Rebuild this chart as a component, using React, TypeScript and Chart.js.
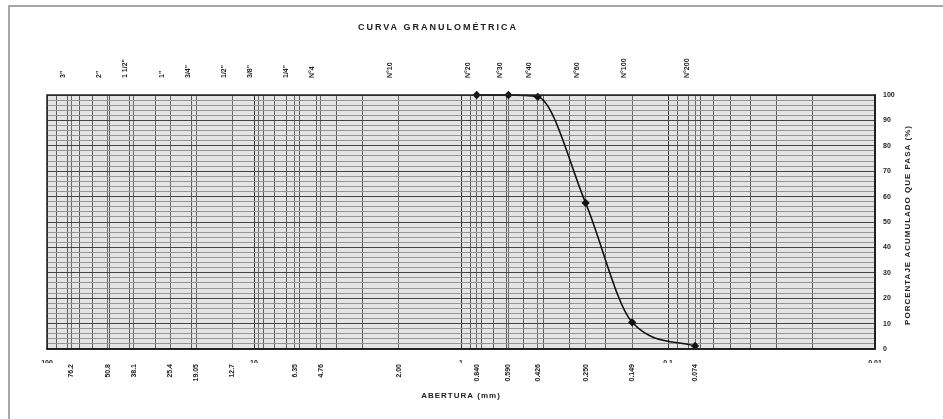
import React, { useEffect, useRef } from 'react';
import { Chart, registerables } from 'chart.js';

Chart.register(...registerables);

// Sieve designations (top axis) and their openings in mm (bottom axis)
const sieveNames = ['3"', '2"', '1 1/2"', '1"', '3/4"', '1/2"', '3/8"', '1/4"', 'N°4', 'N°10', 'N°20', 'N°30', 'N°40', 'N°60', 'N°100', 'N°200'];
const sieveOpenings = [76.2, 50.8, 38.1, 25.4, 19.05, 12.7, 9.525, 6.35, 4.76, 2.0, 0.84, 0.59, 0.426, 0.25, 0.149, 0.074];
const openingLabels = ['76.2', '50.8', '38.1', '25.4', '19.05', '12.7', '', '6.35', '4.76', '2.00', '0.840', '0.590', '0.426', '0.250', '0.149', '0.074'];

// Grain size curve (% passing)
const curveOpenings = [0.84, 0.59, 0.426, 0.25, 0.149, 0.074];
const curvePassing = [100, 100, 99.3, 57.5, 10.5, 1.2];

// Decade labels of the log axis
const decadeTicks = [100, 10, 1, 0.1, 0.01];
const decadeLabels = ['100', '10', '1', '0.1', '0.01'];
const minorFactors = [1, 2, 3, 4, 5, 6, 7, 8, 9];

const chartTitle = 'CURVA GRANULOMÉTRICA';
const xTitle = 'ABERTURA (mm)';
const yTitle = 'PORCENTAJE ACUMULADO QUE PASA (%)';

const FONT = 'Liberation Sans';
const tickFont = { family: FONT, size: 7, weight: 'bold' as const };

const near = (a: number, b: number) => Math.abs(a - b) / Math.max(Math.abs(b), 1e-9) < 1e-6;

const gridValues: number[] = (() => {
  const out: number[] = [];
  [0.01, 0.1, 1, 10].forEach((d) => minorFactors.forEach((f) => out.push(+(d * f).toPrecision(6))));
  out.push(100);
  sieveOpenings.forEach((v) => out.push(v));
  return out;
})();

const textPlugin = {
  id: 'texts',
  beforeDraw(chart: any) {
    const { ctx, chartArea: a } = chart;
    ctx.save();
    ctx.fillStyle = '#e4e4e4';
    ctx.fillRect(a.left, a.top, a.right - a.left, a.bottom - a.top);
    ctx.restore();
  },
  afterDraw(chart: any) {
    const { ctx, chartArea: a } = chart;
    ctx.save();
    // outer frame
    ctx.strokeStyle = '#8a8a8a';
    ctx.lineWidth = 1.5;
    ctx.strokeRect(9, 6, 1000, 1000);
    // plot border
    ctx.strokeStyle = '#222';
    ctx.lineWidth = 1.5;
    ctx.strokeRect(a.left, a.top, a.right - a.left, a.bottom - a.top);

    ctx.fillStyle = '#222';
    ctx.textAlign = 'center';
    ctx.textBaseline = 'middle';
    (ctx as any).letterSpacing = '2px';
    ctx.font = `bold 9px "${FONT}"`;
    ctx.fillText(chartTitle, 438, 28);

    (ctx as any).letterSpacing = '1px';
    ctx.font = `bold 8px "${FONT}"`;
    ctx.fillText(xTitle, (a.left + a.right) / 2, 396);

    ctx.translate(908, 225);
    ctx.rotate(-Math.PI / 2);
    ctx.fillText(yTitle, 0, 0);
    ctx.restore();
  },
};

export default function App() {
  const ref = useRef<HTMLCanvasElement>(null);

  useEffect(() => {
    if (!ref.current) return;
    const chart = new Chart(ref.current, {
      type: 'line',
      data: {
        datasets: [
          {
            data: curveOpenings.map((x, i) => ({ x, y: curvePassing[i] })),
            xAxisID: 'x',
            yAxisID: 'y',
            borderColor: '#111',
            borderWidth: 1.6,
            pointStyle: 'rectRot',
            pointRadius: 3,
            pointBackgroundColor: '#111',
            pointBorderColor: '#111',
            cubicInterpolationMode: 'monotone',
            clip: false as any,
          },
        ],
      },
      options: {
        responsive: false,
        animation: false,
        devicePixelRatio: 1,
        layout: { padding: { left: 47, top: 0, right: 0, bottom: 0 } },
        plugins: { legend: { display: false }, tooltip: { enabled: false }, title: { display: false } },
        scales: {
          x: {
            type: 'logarithmic',
            position: 'bottom',
            reverse: true,
            min: 0.01,
            max: 100,
            weight: 0,
            afterBuildTicks: (s: any) => {
              s.ticks = gridValues.map((v) => ({ value: v }));
            },
            afterFit: (s: any) => {
              s.height = 14;
            },
            ticks: {
              autoSkip: false,
              minRotation: 0,
              maxRotation: 0,
              padding: 10,
              color: '#222',
              font: tickFont,
              callback: (v: any) => {
                const i = decadeTicks.findIndex((d) => near(Number(v), d));
                return i >= 0 ? decadeLabels[i] : '';
              },
            },
            grid: {
              drawTicks: false,
              lineWidth: 1,
              color: (c: any) => {
                const v = c.tick ? c.tick.value : 0;
                if (decadeTicks.some((d) => near(v, d))) return '#333';
                if (sieveOpenings.some((d) => near(v, d))) return '#6a6a6a';
                return '#5e5e5e';
              },
            },
            border: { display: true, color: '#222', width: 1.5 },
          },
          xs: {
            type: 'logarithmic',
            position: 'bottom',
            reverse: true,
            min: 0.01,
            max: 100,
            weight: 1,
            afterBuildTicks: (s: any) => {
              s.ticks = sieveOpenings.map((v) => ({ value: v }));
            },
            afterFit: (s: any) => {
              s.height = 56;
            },
            ticks: {
              autoSkip: false,
              minRotation: 90,
              maxRotation: 90,
              padding: 1,
              color: '#222',
              font: tickFont,
              callback: (v: any) => {
                const i = sieveOpenings.findIndex((d) => near(Number(v), d));
                return i >= 0 ? openingLabels[i] : '';
              },
            },
            grid: { display: false, drawTicks: false },
            border: { display: false },
          },
          xt: {
            type: 'logarithmic',
            position: 'top',
            reverse: true,
            min: 0.01,
            max: 100,
            afterBuildTicks: (s: any) => {
              s.ticks = sieveOpenings.map((v) => ({ value: v }));
            },
            afterFit: (s: any) => {
              s.height = 95;
            },
            ticks: {
              autoSkip: false,
              minRotation: 90,
              maxRotation: 90,
              padding: 17,
              color: '#222',
              font: tickFont,
              callback: (v: any) => {
                const i = sieveOpenings.findIndex((d) => near(Number(v), d));
                return i >= 0 ? sieveNames[i] : '';
              },
            },
            grid: { display: false, drawTicks: false },
            border: { display: false },
          },
          y: {
            type: 'linear',
            position: 'right',
            min: 0,
            max: 100,
            afterBuildTicks: (s: any) => {
              const t: any[] = [];
              for (let v = 0; v <= 100; v += 2) t.push({ value: v });
              s.ticks = t;
            },
            afterFit: (s: any) => {
              s.width = 68;
            },
            ticks: {
              autoSkip: false,
              padding: 8,
              color: '#222',
              font: tickFont,
              callback: (v: any) => (Number(v) % 10 === 0 ? String(v) : ''),
            },
            grid: {
              drawTicks: false,
              lineWidth: 1,
              color: (c: any) => (c.tick && c.tick.value % 10 === 0 ? '#444' : '#959595'),
            },
            border: { display: true, color: '#222', width: 1.5 },
          },
        },
      } as any,
      plugins: [textPlugin],
    });
    return () => chart.destroy();
  }, []);

  return (
    <div style={{ position: 'absolute', left: 0, top: 0, width: 943, height: 419, background: '#fff' }}>
      <canvas ref={ref} width={943} height={419} style={{ width: 943, height: 419, display: 'block' }} />
    </div>
  );
}
